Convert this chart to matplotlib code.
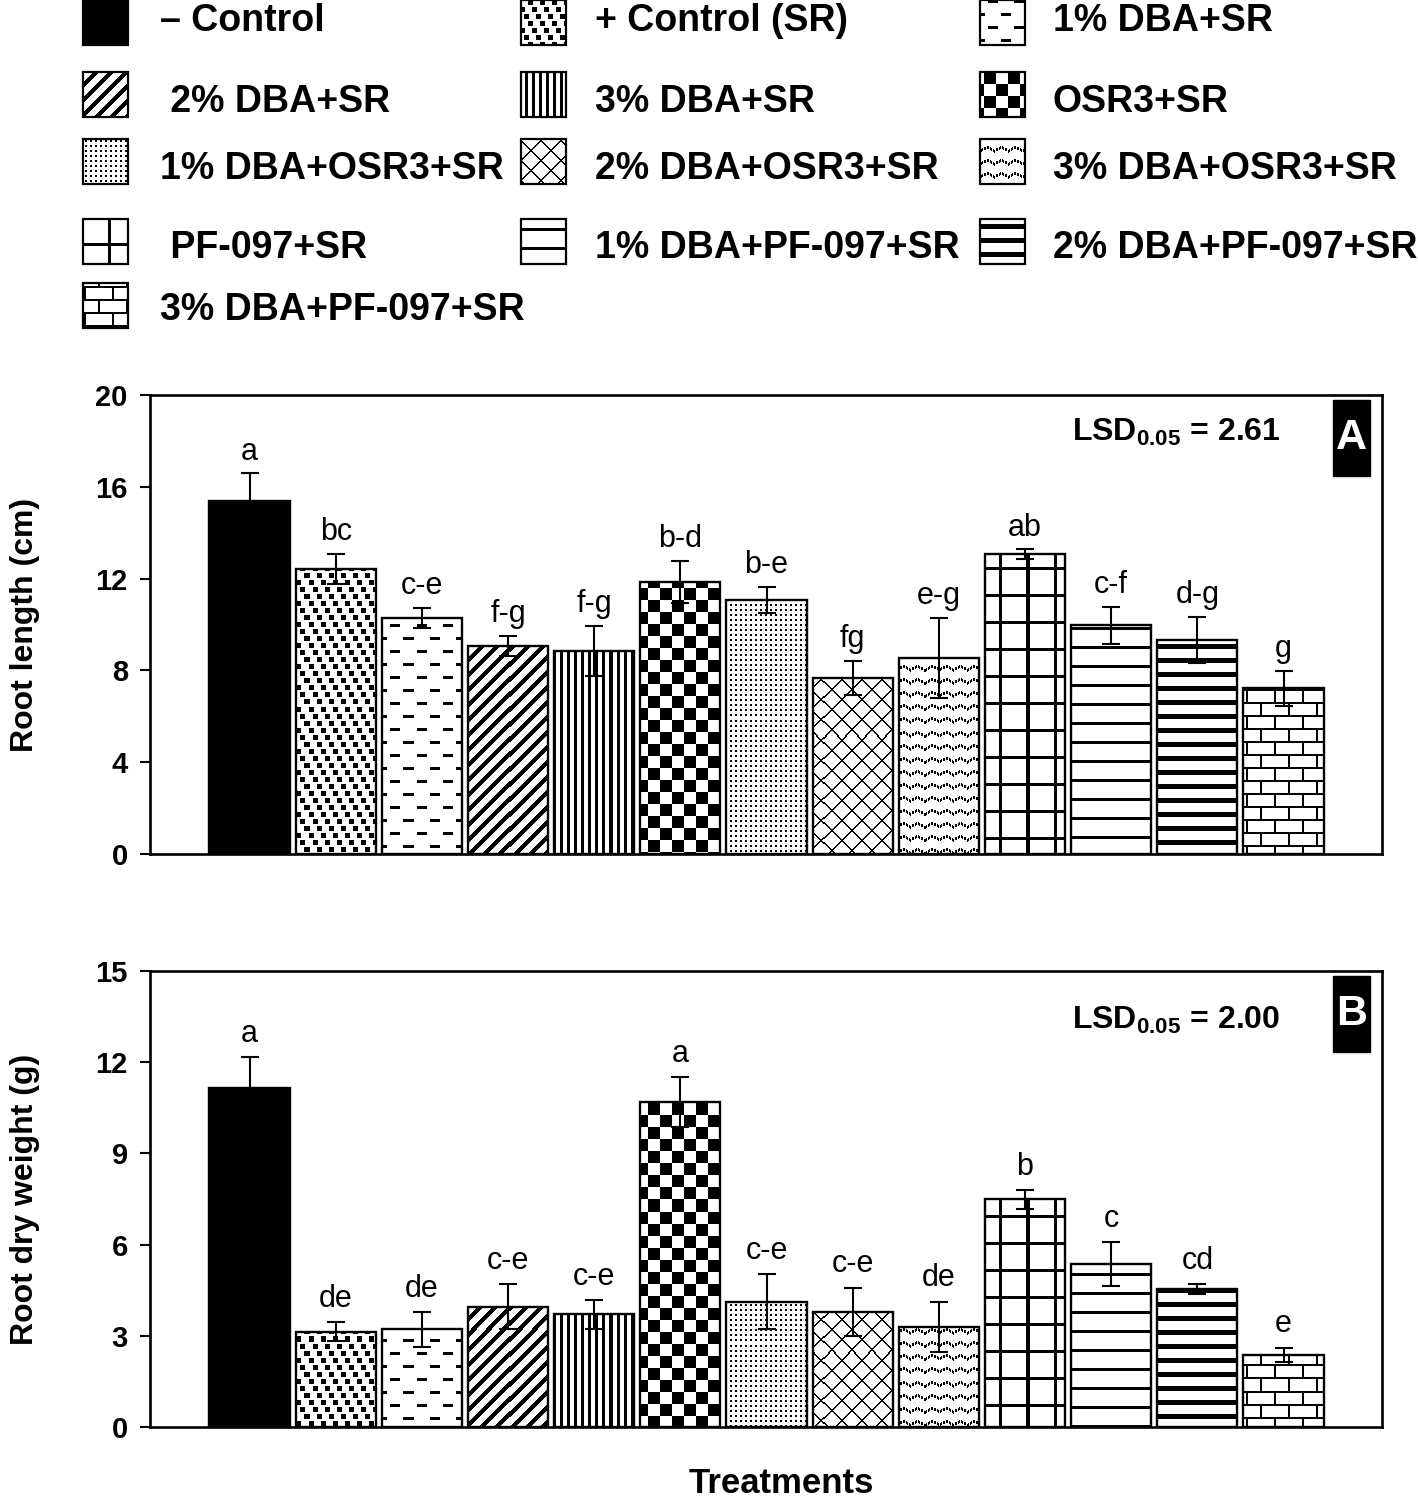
import numpy as np
import matplotlib
matplotlib.use("Agg")
import matplotlib.pyplot as plt
from matplotlib.colors import ListedColormap
from matplotlib.patches import Rectangle

# ---------------- data ----------------
treatments = ["– Control", "+ Control (SR)", "1% DBA+SR",
              "2% DBA+SR", "3% DBA+SR", "OSR3+SR",
              "1% DBA+OSR3+SR", "2% DBA+OSR3+SR", "3% DBA+OSR3+SR",
              "PF-097+SR", "1% DBA+PF-097+SR", "2% DBA+PF-097+SR",
              "3% DBA+PF-097+SR"]
legend_labels = ["– Control", "+ Control (SR)", "1% DBA+SR",
                 " 2% DBA+SR", "3% DBA+SR", "OSR3+SR",
                 "1% DBA+OSR3+SR", "2% DBA+OSR3+SR", "3% DBA+OSR3+SR",
                 " PF-097+SR", "1% DBA+PF-097+SR", "2% DBA+PF-097+SR",
                 "3% DBA+PF-097+SR"]
patterns = ["solid", "confetti", "dash", "diag", "vline", "checker", "dots",
            "trellis", "wave", "grid", "hline", "hthick", "brick"]

root_length = [15.38, 12.42, 10.28, 9.06, 8.85, 11.85, 11.07, 7.68, 8.55,
               13.07, 9.96, 9.32, 7.22]
root_length_err = [1.20, 0.65, 0.45, 0.45, 1.10, 0.90, 0.55, 0.75, 1.75,
                   0.20, 0.80, 1.00, 0.75]
root_length_letters = ["a", "bc", "c-e", "f-g", "f-g", "b-d", "b-e", "fg",
                       "e-g", "ab", "c-f", "d-g", "g"]

root_dw = [11.14, 3.14, 3.21, 3.96, 3.71, 10.70, 4.12, 3.79, 3.29, 7.49,
           5.36, 4.53, 2.37]
root_dw_err = [1.02, 0.30, 0.58, 0.75, 0.47, 0.82, 0.91, 0.79, 0.83, 0.31,
               0.72, 0.16, 0.24]
root_dw_letters = ["a", "de", "de", "c-e", "c-e", "a", "c-e", "c-e", "de",
                   "b", "c", "cd", "e"]

lsd_a = "2.61"
lsd_b = "2.00"

# ---------------- style ----------------
plt.rcParams["font.family"] = ["Liberation Sans", "DejaVu Sans"]
plt.rcParams["mathtext.fontset"] = "custom"
plt.rcParams["mathtext.bf"] = "Liberation Sans:bold"
plt.rcParams["mathtext.rm"] = "Liberation Sans"

W, H = 1418, 1502
fig = plt.figure(figsize=(W / 100, H / 100), dpi=100)
fig.patch.set_facecolor("white")
cmap_bw = ListedColormap(["white", "black"])


def pat(name, X, Y):
    if name == "solid":
        return np.ones(X.shape, bool)
    if name == "confetti":
        r = Y // 7
        return ((Y % 7) < 5) & (((X - 4 * r) % 12) < 5)
    if name == "dash":
        r = Y // 13
        return ((Y % 13) < 3) & (((X + 13 * (r % 2)) % 26) < 10)
    if name == "diag":
        return ((X + Y) % 15) < 6
    if name == "vline":
        return (X % 7) < 3
    if name == "checker":
        return ((X // 12 + Y // 12) % 2) == 0
    if name == "dots":
        return ((X % 5) < 2) & ((Y % 5) < 2)
    if name == "trellis":
        return (((X + Y) % 20) < 2) | (((X - Y) % 20) < 2)
    if name == "wave":
        t = X % 14
        tri = np.abs(t - 7) * 4 // 7
        yy = Y % 13
        return (np.abs(yy - (4 + tri)) <= 1) & ((X % 3) != 2)
    if name == "grid":
        return ((X % 27) < 3) | ((Y % 27) < 3)
    if name == "hline":
        return (Y % 19) < 3
    if name == "hthick":
        return (Y % 14) < 5
    if name == "brick":
        r = Y // 13
        return ((Y % 13) < 2) | (((X + 14 * (r % 2)) % 28) < 2)
    return np.zeros(X.shape, bool)


def texture(ax, patch, name):
    bb = patch.get_path().get_extents(patch.get_transform())
    c0, c1 = int(np.floor(bb.x0)), int(np.ceil(bb.x1))
    r0, r1 = int(np.floor(H - bb.y1)), int(np.ceil(H - bb.y0))
    if c1 <= c0 or r1 <= r0:
        return
    X, Y = np.meshgrid(np.arange(c0, c1), np.arange(r0, r1))
    arr = pat(name, X, Y).astype(float)
    inv = ax.transData.inverted()
    xl, yt = inv.transform((c0, H - r0))
    xr, yb = inv.transform((c1, H - r1))
    im = ax.imshow(arr, extent=(xl, xr, yb, yt), origin="upper", cmap=cmap_bw,
                   vmin=0, vmax=1, interpolation="nearest", aspect="auto",
                   zorder=1.5)
    im.set_clip_path(patch)


def panel(rect_px, values, errs, letters, ymax, ystep, ylabel, lsd, lsd_y,
          tag, letter_off):
    left, top, right, bottom = rect_px
    ax = fig.add_axes([left / W, 1 - bottom / H, (right - left) / W,
                       (bottom - top) / H])
    x = np.arange(len(values))
    xlim = (-1.155, 13.143)
    ax.set_xlim(*xlim)
    ax.set_ylim(0, ymax)
    bars = ax.bar(x, values, width=0.93, facecolor="none", edgecolor="black",
                  linewidth=1.7, zorder=2)
    for b, p in zip(bars, patterns):
        texture(ax, b, p)
    ax.set_xlim(*xlim)
    ax.set_ylim(0, ymax)
    ax.errorbar(x, values, yerr=errs, fmt="none", ecolor="black",
                elinewidth=1.5, capsize=6.5, capthick=1.5, zorder=3)
    for xi, v, e, L in zip(x, values, errs, letters):
        ax.annotate(L, (xi, v + e), xytext=(0, letter_off),
                    textcoords="offset points", ha="center", va="baseline",
                    fontsize=22, zorder=4)
    ax.set_xticks([])
    ticks = np.arange(0, ymax + 0.1, ystep)
    ax.set_yticks(ticks)
    ax.set_yticklabels([f"{int(t)}" for t in ticks],
                       fontsize=21, fontweight="bold")
    ax.tick_params(axis="y", direction="out", length=7, width=1.5, pad=9)
    for s in ax.spines.values():
        s.set_linewidth(1.9)
    ax.set_ylabel(ylabel, fontsize=23, fontweight="bold")
    ax.yaxis.set_label_coords((40 - left) / (right - left), 0.5)
    # LSD text
    ax.text((1072 - left) / (right - left), (bottom - lsd_y) / (bottom - top),
            r"$\mathbf{LSD_{0.05}}$ = " + lsd, transform=ax.transAxes,
            fontsize=23, fontweight="bold", ha="left", va="baseline", zorder=5)
    # tag box
    bx0, bx1 = 1333, 1370
    by0, by1 = top + 5, top + 81
    ax.add_patch(Rectangle(((bx0 - left) / (right - left),
                            (bottom - by1) / (bottom - top)),
                           (bx1 - bx0) / (right - left),
                           (by1 - by0) / (bottom - top),
                           transform=ax.transAxes, facecolor="black",
                           edgecolor="black", zorder=5))
    ax.text(((bx0 + bx1) / 2 - left) / (right - left),
            (bottom - (by0 + by1) / 2) / (bottom - top), tag,
            transform=ax.transAxes, color="white", fontsize=31,
            fontweight="bold", ha="center", va="center", zorder=6)
    return ax


axA = panel((150, 395, 1382, 854), root_length, root_length_err,
            root_length_letters, 20, 4, "Root length (cm)", lsd_a, 441, "A", 10)
axB = panel((150, 971, 1382, 1427), root_dw, root_dw_err, root_dw_letters,
            15, 3, "Root dry weight (g)", lsd_b, 1029, "B", 11)

fig.text(781 / W, 1 - 1493 / H, "Treatments", fontsize=25, fontweight="bold",
         ha="center", va="baseline")

# ---------------- legend ----------------
LH = 340
lax = fig.add_axes([0, 1 - LH / H, 1, LH / H])
lax.set_xlim(0, W)
lax.set_ylim(LH, 0)
lax.axis("off")
col_patch_x = [83, 521, 980]
col_text_x = [160, 595, 1053]
row_patch_y = [0, 72, 139, 219, 283]
row_base_y = [31, 112, 179, 258, 320]
for i, (lab, p) in enumerate(zip(legend_labels, patterns)):
    r, c = divmod(i, 3)
    px, py = col_patch_x[c], row_patch_y[r]
    rect = Rectangle((px, py), 45, 45, facecolor="none", edgecolor="black",
                     linewidth=1.6, zorder=2)
    lax.add_patch(rect)
    texture(lax, rect, p)
    lax.text(col_text_x[c], row_base_y[r], lab, fontsize=27,
             fontweight="bold", ha="left", va="baseline")
lax.set_xlim(0, W)
lax.set_ylim(LH, 0)

fig.savefig("out.png", dpi=100, facecolor="white")
